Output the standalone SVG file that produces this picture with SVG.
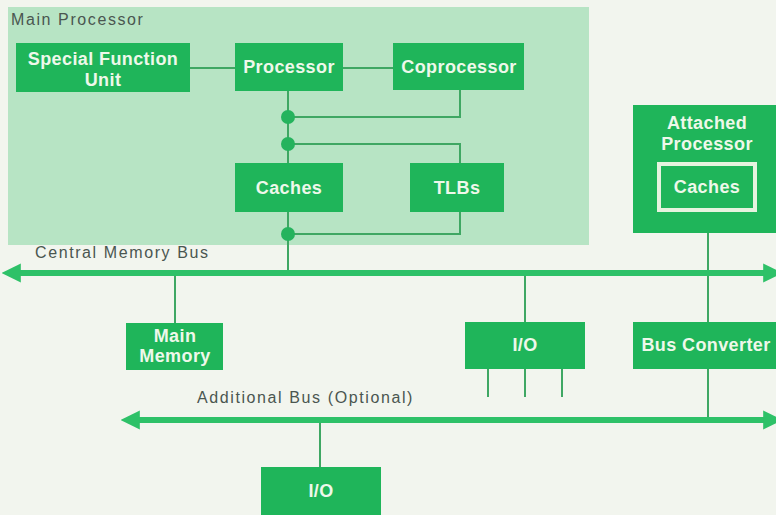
<svg xmlns="http://www.w3.org/2000/svg" width="776" height="515" viewBox="0 0 776 515">
<defs>
<style>
.box{fill:#1fb55a;}
.bt{font-family:"Liberation Sans",Arial,sans-serif;font-weight:bold;font-size:18px;letter-spacing:0.4px;fill:#eef8ea;text-anchor:middle;}
.lbl{font-family:"Liberation Sans",Arial,sans-serif;font-size:16px;letter-spacing:1.6px;fill:#4a5650;}
.ln{stroke:#3fa763;stroke-width:2;fill:none;}
.bus{stroke:#2ec168;stroke-width:6;fill:none;}
.dot{fill:#25b35d;}
</style>
<marker id="ah" viewBox="0 0 10 10" refX="2" refY="5" markerWidth="3.2" markerHeight="3.2" orient="auto-start-reverse" markerUnits="strokeWidth">
<path d="M0,0 L10,5 L0,10 Z" fill="#2ec168"/>
</marker>
</defs>
<rect width="776" height="515" fill="#f2f5ee"/>
<g id="main-processor">
<rect x="8" y="7" width="581" height="238" fill="#b7e4c4"/>
<text class="lbl" x="11" y="25">Main Processor</text>
</g>
<g id="connectors">
<line class="ln" x1="190" y1="68" x2="235" y2="68"/>
<line class="ln" x1="343" y1="68" x2="393" y2="68"/>
<line class="ln" x1="288" y1="91" x2="288" y2="273"/>
<polyline class="ln" points="288,117 460,117 460,90"/>
<polyline class="ln" points="288,144 460,144 460,163"/>
<polyline class="ln" points="288,234 460,234 460,212"/>
<line class="ln" x1="175" y1="273" x2="175" y2="323"/>
<line class="ln" x1="525" y1="273" x2="525" y2="322"/>
<line class="ln" x1="488" y1="369" x2="488" y2="397"/>
<line class="ln" x1="525" y1="369" x2="525" y2="397"/>
<line class="ln" x1="562" y1="369" x2="562" y2="397"/>
<line class="ln" x1="708" y1="233" x2="708" y2="420"/>
<line class="ln" x1="320" y1="420" x2="320" y2="467"/>
<circle class="dot" cx="288" cy="117" r="7"/>
<circle class="dot" cx="288" cy="144" r="7"/>
<circle class="dot" cx="288" cy="234" r="7"/>
<line class="bus" x1="17" y1="273" x2="767" y2="273" marker-start="url(#ah)" marker-end="url(#ah)"/>
<line class="bus" x1="136" y1="420" x2="767" y2="420" marker-start="url(#ah)" marker-end="url(#ah)"/>
</g>
<g id="sfu">
<rect class="box" x="16" y="43" width="174" height="49"/>
<text class="bt" x="103" y="65">Special Function</text>
<text class="bt" x="103" y="86">Unit</text>
</g>
<g id="processor">
<rect class="box" x="235" y="43" width="108" height="48"/>
<text class="bt" x="289" y="73">Processor</text>
</g>
<g id="coprocessor">
<rect class="box" x="393" y="43" width="131" height="47"/>
<text class="bt" x="459" y="73">Coprocessor</text>
</g>
<g id="caches">
<rect class="box" x="235" y="163" width="108" height="49"/>
<text class="bt" x="289" y="194">Caches</text>
</g>
<g id="tlbs">
<rect class="box" x="410" y="163" width="94" height="49"/>
<text class="bt" x="457" y="194">TLBs</text>
</g>
<g id="attached-processor">
<rect class="box" x="633" y="105" width="143" height="128"/>
<text class="bt" x="707" y="129">Attached</text>
<text class="bt" x="707" y="150">Processor</text>
<rect x="659" y="164" width="96" height="46" fill="#1fb55a" stroke="#e6f3df" stroke-width="4"/>
<text class="bt" x="707" y="193">Caches</text>
</g>
<g id="bus-labels">
<text class="lbl" x="35" y="258">Central Memory Bus</text>
<text class="lbl" x="197" y="403">Additional Bus (Optional)</text>
</g>
<g id="main-memory">
<rect class="box" x="126" y="323" width="97" height="47"/>
<text class="bt" x="175" y="342">Main</text>
<text class="bt" x="175" y="362">Memory</text>
</g>
<g id="io-1">
<rect class="box" x="465" y="322" width="120" height="47"/>
<text class="bt" x="525" y="351">I/O</text>
</g>
<g id="bus-converter">
<rect class="box" x="633" y="322" width="143" height="47"/>
<text class="bt" x="706" y="351">Bus Converter</text>
</g>
<g id="io-2">
<rect class="box" x="261" y="467" width="120" height="48"/>
<text class="bt" x="321" y="497">I/O</text>
</g>
</svg>
